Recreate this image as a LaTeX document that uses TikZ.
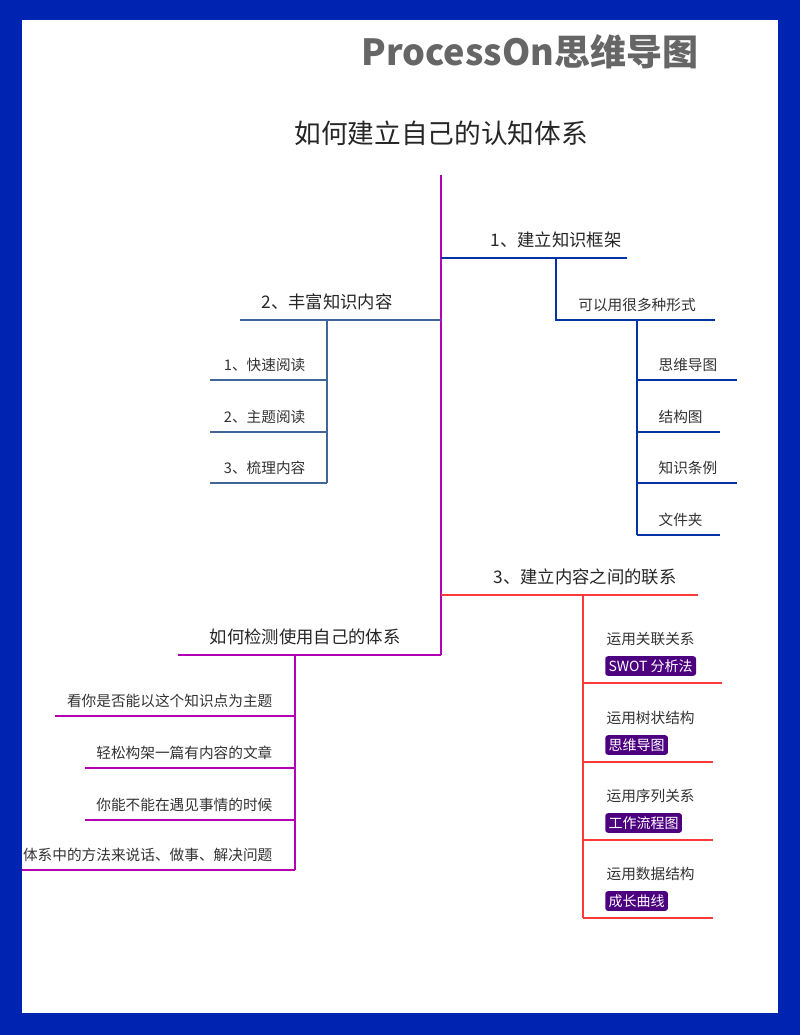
\documentclass[tikz,border=0pt]{standalone}
\usepackage{fontspec}
\setmainfont{Noto Sans CJK SC}
\begin{document}
\begin{tikzpicture}[x=0.75pt,y=-0.75pt,
 bl/.style={draw=blue!55!black!80!cyan,line width=1.6pt},
 tl/.style={draw=cyan!50!blue!70!black,line width=1.6pt},
 rd/.style={draw=red!70!pink,line width=1.6pt},
 pp/.style={draw=violet!60!magenta,line width=1.6pt},
 lab/.style={font=\fontsize{11}{13}\selectfont,text=black!80,inner sep=1pt},
 big/.style={font=\fontsize{13}{15}\selectfont,text=black!85,inner sep=1pt},
 tag/.style={fill=violet!75!blue!80!black,text=white,rounded corners=2pt,font=\fontsize{10.5}{12}\selectfont,inner sep=2.5pt}]
\fill[blue!80!cyan!70!black] (0,0) rectangle (800,1035);
\fill[white] (22,20) rectangle (778,1013);
\node[font=\bfseries\fontsize{27}{30}\selectfont,text=black!60] (hdr) at (530,52) {ProcessOn思维导图};
\node[font=\fontsize{20}{24}\selectfont,text=black!85] (title) at (441,133) {如何建立自己的认知体系};
% trunk
\coordinate (t0) at (441,175); \coordinate (t1) at (441,655);
\draw[pp] (t0) -- (t1);
% branch 1
\coordinate (b1a) at (441,258); \coordinate (b1b) at (627,258);
\draw[bl] (b1a) -- (b1b);
\node[big,anchor=south] (n1) at (556,250) {1、建立知识框架};
\coordinate (s1a) at (556,258); \coordinate (s1b) at (556,320); \coordinate (s1c) at (715,320);
\draw[bl] (s1a) -- (s1b) -- (s1c);
\node[lab,anchor=south] (n11) at (637,313) {可以用很多种形式};
\coordinate (s2a) at (637,320); \coordinate (s2b) at (637,535);
\draw[bl] (s2a) -- (s2b);
\foreach \y/\e/\t in {380/737/思维导图,432/720/结构图,483/737/知识条例,535/720/文件夹}{
 \coordinate (l\y) at (\e,\y);
 \draw[bl] (637,\y) -- (l\y);
 \node[lab,anchor=south west] (m\y) at (657,\y-7) {\t};
}
% branch 2
\coordinate (b2a) at (441,320); \coordinate (b2b) at (240,320);
\draw[tl] (b2a) -- (b2b);
\node[big,anchor=south] (n2) at (327,312) {2、丰富知识内容};
\coordinate (s3a) at (327,320); \coordinate (s3b) at (327,483);
\draw[tl] (s3a) -- (s3b);
\foreach \y/\t in {380/1、快速阅读,432/2、主题阅读,483/3、梳理内容}{
 \coordinate (k\y) at (210,\y);
 \draw[tl] (327,\y) -- (k\y);
 \node[lab,anchor=south east] (q\y) at (307,\y-7) {\t};
}
% branch 3
\coordinate (b3a) at (441,595); \coordinate (b3b) at (698,595);
\draw[rd] (b3a) -- (b3b);
\node[big,anchor=south] (n3) at (585,587) {3、建立内容之间的联系};
\coordinate (s4a) at (583,595); \coordinate (s4b) at (583,918);
\draw[rd] (s4a) -- (s4b);
\foreach \y/\e/\t/\g in {683/722/运用关联关系/SWOT 分析法,762/713/运用树状结构/思维导图,840/713/运用序列关系/工作流程图,918/713/运用数据结构/成长曲线}{
 \coordinate (r\y) at (\e,\y);
 \draw[rd] (583,\y) -- (r\y);
 \node[lab,anchor=west] (u\y) at (605,\y-44) {\t};
 \node[tag,anchor=west] (g\y) at (605,\y-17) {\g};
}
% branch 4
\coordinate (b4b) at (178,655);
\draw[pp] (t1) -- (b4b);
\node[big,anchor=south] (n4) at (305,647) {如何检测使用自己的体系};
\coordinate (s5a) at (295,655); \coordinate (s5b) at (295,870);
\draw[pp] (s5a) -- (s5b);
\foreach \y/\e/\t in {716/55/看你是否能以这个知识点为主题,768/85/轻松构架一篇有内容的文章,820/85/你能不能在遇见事情的时候,870/22/体系中的方法来说话、做事、解决问题}{
 \coordinate (p\y) at (\e,\y);
 \draw[pp] (295,\y) -- (p\y);
 \node[lab,anchor=south east] (v\y) at (274,\y-7) {\t};
}
\end{tikzpicture}
\end{document}
